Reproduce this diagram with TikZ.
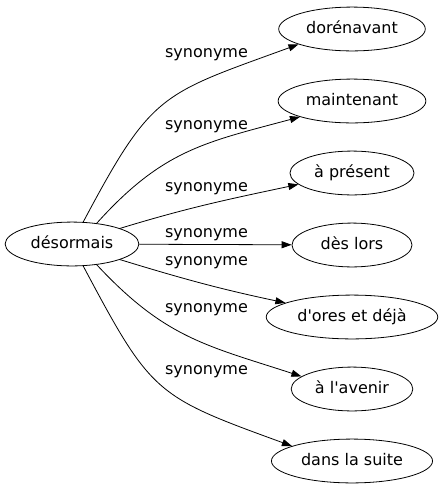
\documentclass[tikz,border=0pt]{standalone}
\usepackage{fontspec}
\setmainfont{DejaVu Sans}
\usetikzlibrary{arrows.meta, positioning, shapes}

\begin{document}
\begin{tikzpicture}[
    x=1pt, y=-1pt,
    node distance=72pt,
    font=\fontsize{16}{19}\selectfont,
    word/.style={ellipse, draw, line width=0.8pt, inner xsep=6pt, inner ysep=8pt, text height=11.5pt, text depth=3.5pt, minimum width=120pt},
    lbl/.style={inner sep=0pt},
    arrow/.style={-{Triangle[length=10pt, width=7pt]}, line width=0.8pt}
  ]
    \useasboundingbox (0,0) rectangle (444,491);
    \node[word] (desormais) at (72,244) {désormais};
    \node[word] (dorenavant) at (352,29) {dorénavant};
    \node[word, below of=dorenavant] (maintenant) {maintenant};
    \node[word, below of=maintenant] (present) {à présent};
    \node[word, below of=present] (deslors) {dès lors};
    \node[word, below of=deslors] (dores) {d\textquotesingle ores et déjà};
    \node[word, below of=dores] (avenir) {à l\textquotesingle avenir};
    \node[word, below of=avenir] (suite) {dans la suite};

    \node[lbl] (l1) at (206.5,55) {synonyme};
    \node[lbl] (l2) at (206.5,127) {synonyme};
    \node[lbl] (l3) at (206.5,189) {synonyme};
    \node[lbl] (l4) at (206.5,235) {synonyme};
    \node[lbl] (l5) at (206.5,263) {synonyme};
    \node[lbl] (l6) at (206.5,310) {synonyme};
    \node[lbl] (l7) at (206.5,372) {synonyme};

    \draw[arrow] (desormais.63) to[out=62, in=200, looseness=1.35] (dorenavant.196);
    \draw[arrow] (desormais.40) to[out=48, in=195, looseness=1.1] (maintenant.197);
    \draw[arrow] (desormais.18) to[out=17, in=192] (present.192);
    \draw[arrow] (desormais) -- (deslors);
    \draw[arrow] (desormais.-18) to[out=-17, in=168] (dores.168);
    \draw[arrow] (desormais.-40) to[out=-47, in=162, looseness=1.1] (avenir.166);
    \draw[arrow] (desormais.-63) to[out=-62, in=160, looseness=1.35] (suite.166);
  \end{tikzpicture}
\end{document}
